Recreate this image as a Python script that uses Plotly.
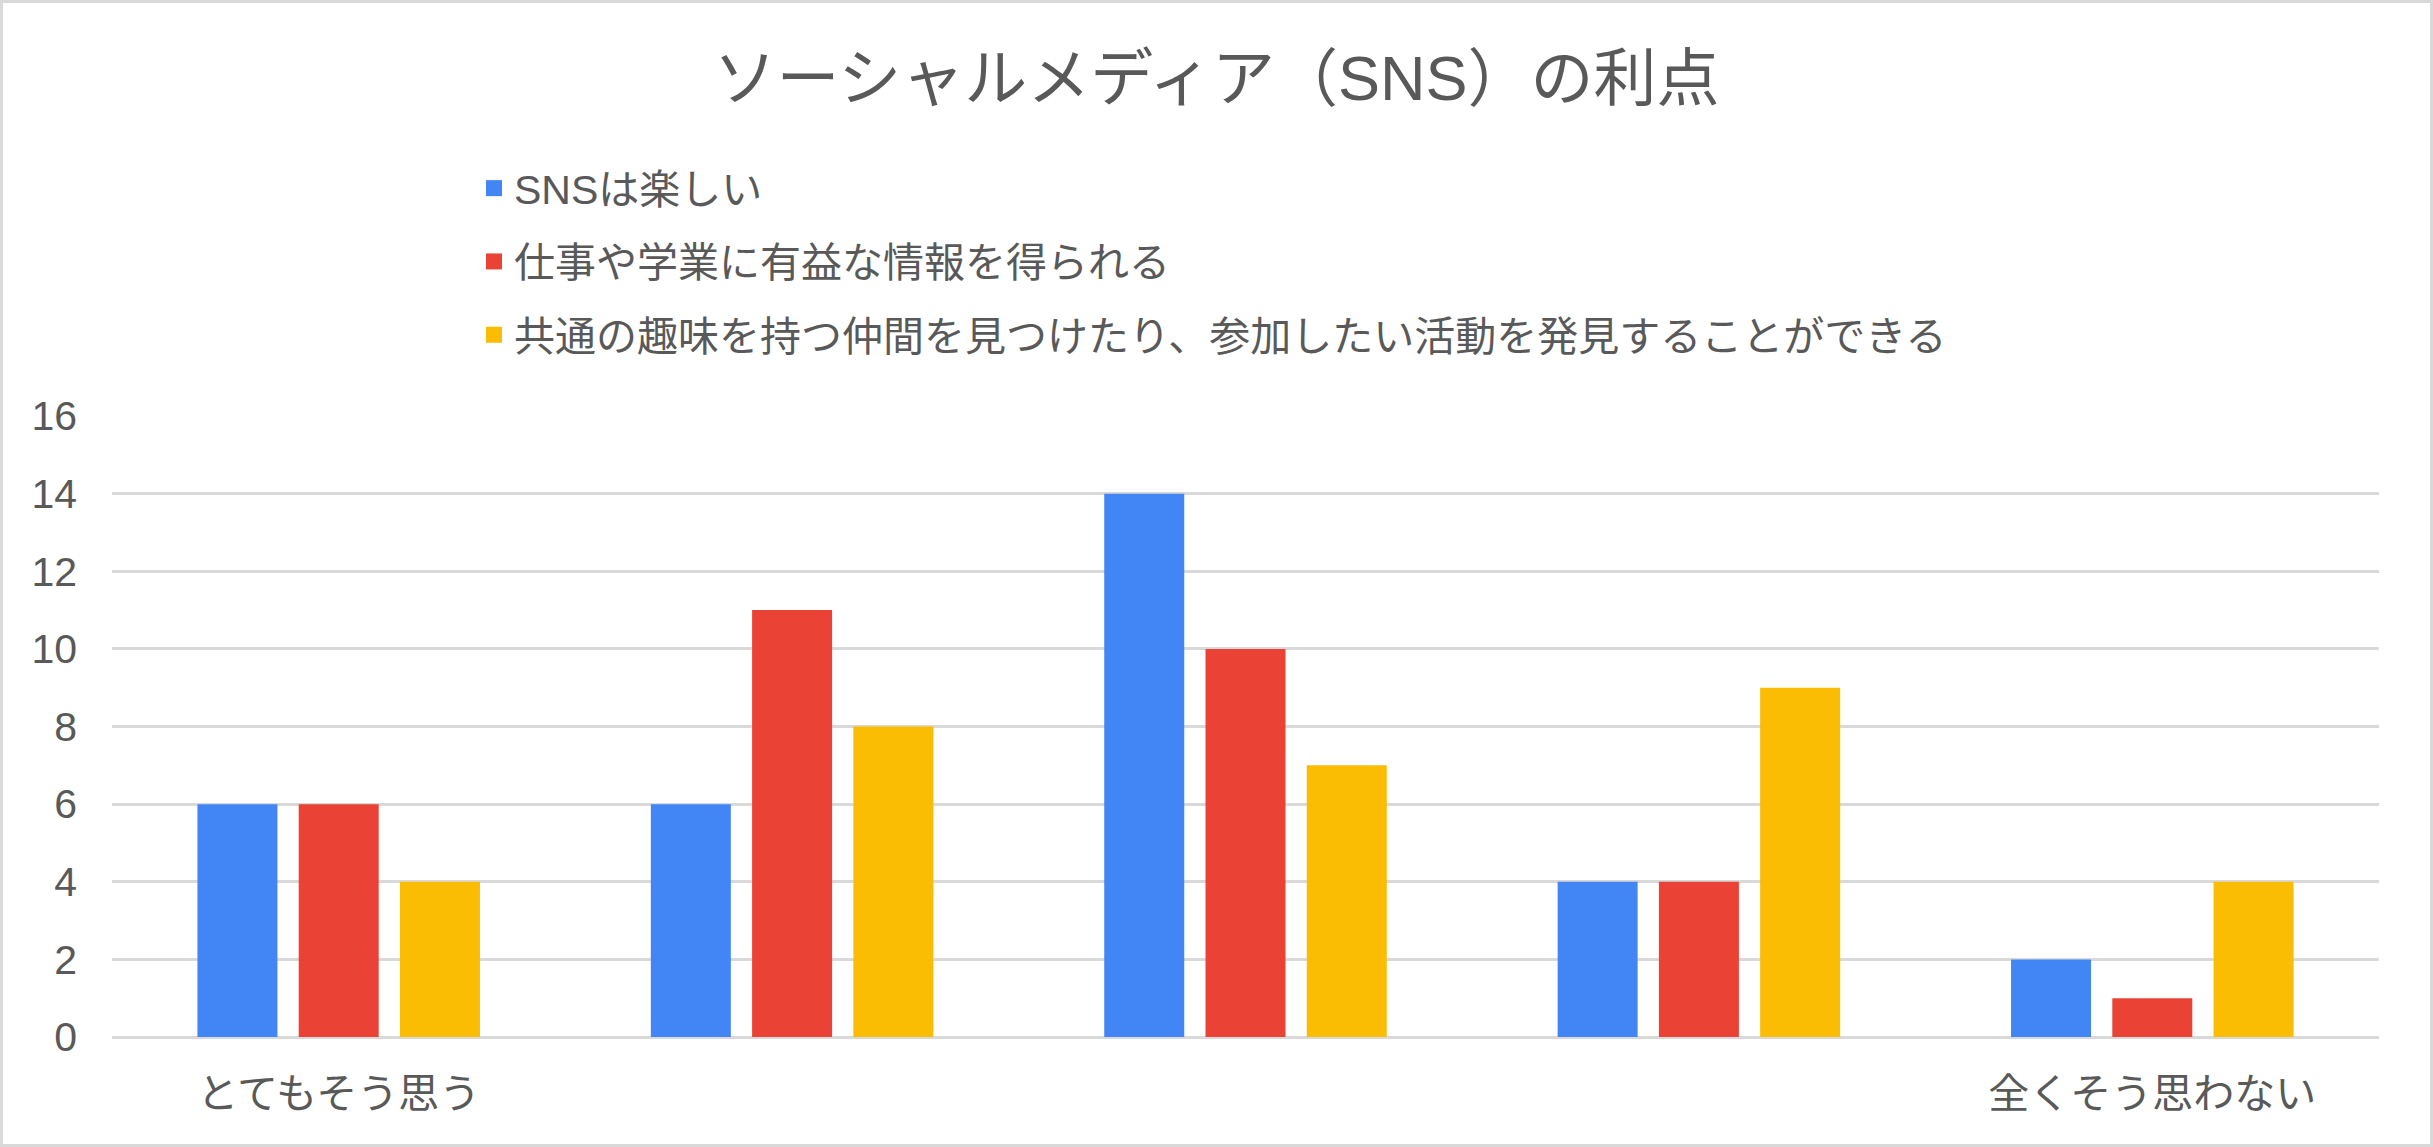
import plotly.graph_objects as go

# アンケート結果（5段階）
categories = ["とてもそう思う", "そう思う", "どちらでもない", "あまりそう思わない", "全くそう思わない"]
tick_labels = ["とてもそう思う", "", "", "", "全くそう思わない"]

series_names = [
    "SNSは楽しい",
    "仕事や学業に有益な情報を得られる",
    "共通の趣味を持つ仲間を見つけたり、参加したい活動を発見することができる",
]
sns_fun = [6, 6, 14, 4, 2]
useful_info = [6, 11, 10, 4, 1]
find_friends = [4, 8, 7, 9, 4]

colors = ["#4285f4", "#ea4335", "#fbbc04"]
font = "Liberation Sans, Noto Sans CJK JP, sans-serif"
text_color = "#595959"

W, H = 2433, 1147
ml, mr, mt, mb = 112, 54, 416, 110
pw = W - ml - mr
ph = H - mt - mb

fig = go.Figure()
idx = list(range(len(categories)))
for i, (name, vals) in enumerate(zip(series_names, [sns_fun, useful_info, find_friends])):
    fig.add_trace(
        go.Bar(
            x=idx,
            y=vals,
            name=name,
            marker={"color": colors[i], "line": {"width": 0}},
            showlegend=False,
            legendgroup=f"g{i}",
            hovertext=[categories[j] for j in idx],
        )
    )
    # legend entry with a bigger square
    fig.add_trace(
        go.Scatter(
            x=[None],
            y=[None],
            mode="markers",
            name=name,
            marker={"color": colors[i], "symbol": "square", "size": 16},
            legendgroup=f"g{i}",
        )
    )

fig.update_layout(
    width=W,
    height=H,
    margin={"l": ml, "r": mr, "t": mt, "b": mb},
    paper_bgcolor="white",
    plot_bgcolor="white",
    font={"family": font, "color": text_color, "size": 41},
    title={
        "text": "ソーシャルメディア（SNS）の利点",
        "x": 0.5,
        "xanchor": "center",
        "y": 1 - 78 / H,
        "yanchor": "middle",
        "font": {"size": 63, "color": text_color},
    },
    barmode="group",
    bargap=0.33,
    bargroupgap=0.21,
    showlegend=True,
    legend={
        "orientation": "v",
        "x": (474 - ml) / pw,
        "xanchor": "left",
        "y": 1 + (416 - 155) / ph,
        "yanchor": "top",
        "traceorder": "grouped",
        "tracegroupgap": 17,
        "font": {"size": 41, "color": text_color},
        "itemwidth": 30,
    },
    xaxis={
        "range": [-0.5, 4.5],
        "tickvals": idx,
        "ticktext": tick_labels,
        "showgrid": False,
        "showline": False,
        "zeroline": False,
        "ticklabelstandoff": 29,
        "fixedrange": True,
    },
    yaxis={
        "range": [0, 16],
        "dtick": 2,
        "showgrid": True,
        "gridcolor": "#d9d9d9",
        "gridwidth": 3,
        "zeroline": True,
        "zerolinecolor": "#d9d9d9",
        "zerolinewidth": 3,
        "ticklabelstandoff": 34,
        "fixedrange": True,
    },
    shapes=[
        {
            "type": "rect",
            "xref": "paper",
            "yref": "paper",
            "x0": -ml / pw + 1.5 / pw,
            "x1": 1 + mr / pw - 1.5 / pw,
            "y0": -mb / ph + 1.5 / ph,
            "y1": 1 + mt / ph - 1.5 / ph,
            "line": {"color": "#d9d9d9", "width": 3},
            "layer": "below",
        }
    ],
)

fig.write_html(
    "out.html",
    config={"displayModeBar": False},
    post_script="document.body.style.margin='0';document.body.style.overflow='hidden';",
)
